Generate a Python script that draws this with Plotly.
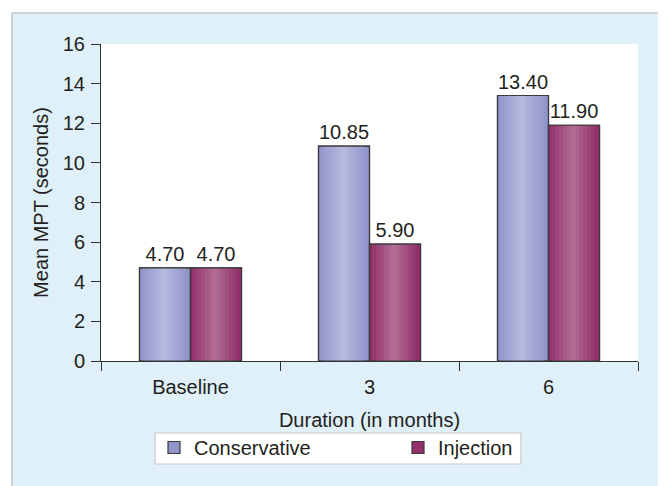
import plotly.graph_objects as go

categories = ["Baseline", "3", "6"]
conservative = [4.70, 10.85, 13.40]
injection = [4.70, 5.90, 11.90]
conservative_labels = ["4.70", "10.85", "13.40"]
injection_labels = ["4.70", "5.90", "11.90"]

FONT = "Liberation Sans, Arial, sans-serif"
TXT = "#231f20"
FS = 20

# The page body has an 8px margin, so the figure is drawn 8px in from the window edge.
OFF = 8
W, H = 666 - OFF, 486 - OFF
# target plot area in window pixels: x 101..638, y 44..361
L, T = 101 - OFF, 44 - OFF
pw, ph = 537, 317
R, B = W - L - pw, H - T - ph


def px(xs):
    return (xs - OFF - L) / pw


def py(ys):
    return (H - B - (ys - OFF)) / ph


def mix(c1, c2, t):
    a = [int(c1[i:i + 2], 16) for i in (1, 3, 5)]
    b = [int(c2[i:i + 2], 16) for i in (1, 3, 5)]
    return "#" + "".join(f"{round(a[k] + (b[k] - a[k]) * t):02x}" for k in range(3))


BW = 0.285  # bar width as a fraction of a category
OUTLINE = dict(color="#3a3a3a", width=1.2)
series = [
    ("Conservative", conservative, conservative_labels, -BW, "#8b8fc7", "#b6b8de"),
    ("Injection", injection, injection_labels, 0.0, "#8e2565", "#b06c93"),
]
STEPS = [0.85, 0.7, 0.55, 0.4, 0.25, 0.12]

fig = go.Figure()
# base fills (also used for the legend)
for name, vals, labels, off, edge, mid in series:
    fig.add_trace(go.Bar(
        name=name, x=categories, y=vals, width=BW, offset=off,
        marker=dict(color=mix(edge, mid, 0.15), line=OUTLINE),
        hoverinfo="skip",
    ))
# cylinder-like shading bands
for name, vals, labels, off, edge, mid in series:
    centre = off + BW / 2
    for i, f in enumerate(STEPS):
        t = 0.15 + 0.85 * (i + 1) / len(STEPS)
        fig.add_trace(go.Bar(
            x=categories, y=vals, width=BW * f, offset=centre - BW * f / 2 - 0.02 * BW,
            marker=dict(color=mix(edge, mid, t), line=dict(width=0)),
            showlegend=False, hoverinfo="skip",
        ))
# outlines and value labels on top
for name, vals, labels, off, edge, mid in series:
    fig.add_trace(go.Bar(
        name=name, x=categories, y=vals, width=BW, offset=off,
        text=labels, textposition="outside", cliponaxis=False,
        constraintext="none",
        textfont=dict(size=FS, color=TXT, family=FONT),
        marker=dict(color="rgba(0,0,0,0)", line=OUTLINE),
        showlegend=False,
    ))

fig.update_layout(
    width=W, height=H,
    margin=dict(l=L, r=R, t=T, b=B, pad=0),
    paper_bgcolor="#dff0f8",
    plot_bgcolor="white",
    font=dict(family=FONT, size=FS, color=TXT),
    barmode="overlay",
    showlegend=True,
    legend=dict(
        orientation="h",
        x=px(154), xanchor="left",
        y=py(428), yanchor="top",
        bgcolor="rgba(0,0,0,0)", borderwidth=0,
        font=dict(size=FS, color=TXT, family=FONT),
        entrywidth=199, entrywidthmode="pixels",
        traceorder="normal",
    ),
    shapes=[
        # white strips outside the panel border
        dict(type="rect", xref="paper", yref="paper",
             x0=px(0), x1=px(12), y0=py(500), y1=py(0),
             fillcolor="white", line=dict(width=0), layer="below"),
        dict(type="rect", xref="paper", yref="paper",
             x0=px(0), x1=px(680), y0=py(13), y1=py(0),
             fillcolor="white", line=dict(width=0), layer="below"),
        dict(type="rect", xref="paper", yref="paper",
             x0=px(663), x1=px(680), y0=py(500), y1=py(0),
             fillcolor="white", line=dict(width=0), layer="below"),
        # panel border
        dict(type="rect", xref="paper", yref="paper",
             x0=px(12), x1=px(663), y0=py(495), y1=py(13),
             fillcolor="rgba(0,0,0,0)", line=dict(color="#c4c8cc", width=1.5),
             layer="below"),
        # legend box
        dict(type="rect", xref="paper", yref="paper",
             x0=px(155), x1=px(521), y0=py(464), y1=py(433),
             fillcolor="white", line=dict(color="#c8c8c8", width=1.2),
             layer="below"),
    ],
)

fig.update_yaxes(
    range=[0, 16], dtick=2, tick0=0,
    showgrid=False, zeroline=False,
    showline=True, linecolor="#333333", linewidth=1,
    ticks="outside", ticklen=9, tickcolor="#333333", tickwidth=1,
    ticklabelstandoff=2,
    tickfont=dict(size=FS, color=TXT, family=FONT),
    title=dict(text="Mean MPT (seconds)", font=dict(size=FS, color=TXT, family=FONT), standoff=8),
)
fig.update_xaxes(
    range=[-0.5, 2.5],
    showgrid=False,
    showline=True, linecolor="#333333", linewidth=1,
    ticks="outside", ticklen=9, tickcolor="#333333", tickwidth=1,
    tickson="boundaries",
    ticklabelstandoff=8,
    tickfont=dict(size=FS, color=TXT, family=FONT),
    title=dict(text="Duration (in months)", font=dict(size=FS, color=TXT, family=FONT), standoff=15),
)

fig.write_html("out.html")
